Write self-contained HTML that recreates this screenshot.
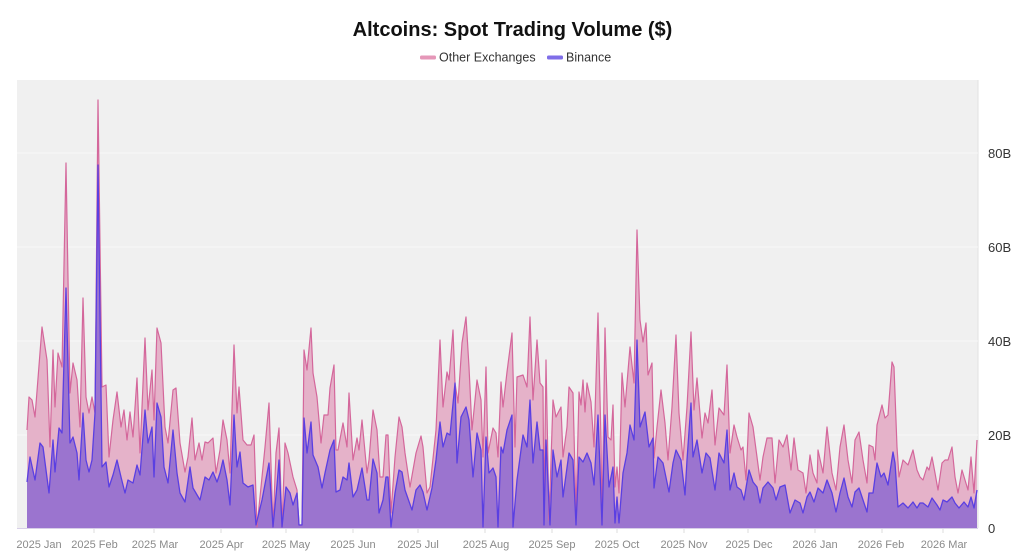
<!DOCTYPE html>
<html><head><meta charset="utf-8"><style>
html,body{margin:0;padding:0;background:#fff;}
svg{display:block;font-family:"Liberation Sans",sans-serif;}
</style></head><body>
<svg width="1024" height="558" viewBox="0 0 1024 558" xmlns="http://www.w3.org/2000/svg">
<rect x="0" y="0" width="1024" height="558" fill="#fff"/>
<text x="512.5" y="36" text-anchor="middle" font-size="20" font-weight="bold" fill="#111">Altcoins: Spot Trading Volume ($)</text>
<rect x="420" y="55.5" width="16" height="4" rx="1.5" fill="#e597b8"/>
<text x="439" y="61.5" font-size="12.5" fill="#333">Other Exchanges</text>
<rect x="547" y="55.5" width="16" height="4" rx="1.5" fill="#7f6ee8"/>
<text x="566" y="61.5" font-size="12.5" fill="#333">Binance</text>
<rect x="17" y="80" width="961" height="448" fill="#f0f0f0"/>
<line x1="978" y1="80" x2="978" y2="528" stroke="#e2e2e2" stroke-width="1"/>
<g stroke="#f7f7f7" stroke-width="1">
<line x1="17" y1="153" x2="978" y2="153"/>
<line x1="17" y1="247" x2="978" y2="247"/>
<line x1="17" y1="341" x2="978" y2="341"/>
<line x1="17" y1="435" x2="978" y2="435"/>
</g>
<polygon fill="#e5b2c9" points="27,528 27,430 29,397 32,400 35,417 42,327 47,360 50,447 53,350 55,407 58,353 62,367 66,163 70,393 73,363 77,380 80,427 83,298 86,397 89,413 92,397 95,413 98,100 102,387 106,385 109,457 113,420 117,392 121,427 124,410 127,440 130,412 133,437 137,378 140,453 145,338 148,410 152,370 154,420 157,328 161,343 165,427 168,443 173,390 176,388 180,443 185,472 188,457 192,418 195,460 199,443 202,460 205,442 208,443 213,438 216,473 220,450 223,420 227,440 230,473 234,345 237,413 239,387 243,440 247,445 251,445 254,435 257,527 262,477 265,447 269,403 273,527 276,453 279,428 282,527 285,443 288,453 293,477 297,490 299,525 302,525 304,350 307,370 311,328 313,373 317,397 321,443 324,415 328,415 330,388 334,365 336,450 338,450 343,423 347,447 349,393 353,460 357,438 359,450 362,420 367,473 369,460 373,410 377,430 380,477 383,477 386,435 388,435 391,513 395,457 399,417 402,427 405,453 410,487 416,453 421,436 423,447 427,493 430,487 436,430 440,340 443,407 447,372 449,380 453,330 455,383 458,403 462,343 466,317 469,367 472,430 477,380 481,400 483,457 486,367 488,453 493,428 496,433 498,457 501,382 503,407 507,372 512,333 515,447 517,377 523,375 527,387 530,317 533,400 537,340 540,383 543,387 544,520 546,360 549,520 553,400 556,417 561,407 563,457 567,427 569,387 573,393 576,513 579,392 581,405 583,380 585,412 587,383 591,402 594,447 598,313 601,440 602,523 605,328 608,437 611,440 613,405 615,487 617,467 619,493 622,373 625,407 630,347 634,383 637,230 640,320 643,342 646,323 648,375 652,363 654,458 657,427 661,390 665,423 668,460 672,407 676,335 679,413 683,460 687,407 691,332 694,410 697,378 702,438 705,413 708,423 712,390 715,445 719,408 724,415 727,365 730,453 734,425 737,437 741,450 743,447 746,480 749,413 753,427 757,457 760,480 763,457 767,438 772,438 775,483 779,440 783,447 787,435 791,470 794,438 798,470 803,473 806,493 810,455 813,473 817,483 818,450 823,473 827,427 832,473 836,490 840,447 844,425 848,460 852,483 855,440 859,432 863,460 867,483 869,445 873,447 875,460 877,425 882,405 885,418 888,415 892,362 894,367 897,447 899,477 903,460 908,465 913,450 917,470 920,477 923,480 927,467 929,470 932,457 935,473 938,490 942,463 945,460 948,460 952,447 955,477 958,493 962,470 965,480 968,490 971,457 974,493 977,440 977,528"/>
<polygon fill="#9b74cf" points="27,528 27,482 30,457 35,480 40,443 43,447 49,493 53,440 55,472 59,428 62,433 66,288 70,443 73,437 77,453 79,480 83,413 86,460 89,472 92,460 95,413 98,165 102,467 106,462 109,487 113,475 117,460 121,477 125,493 128,480 133,483 137,465 140,475 145,410 148,443 152,427 154,477 157,403 161,417 164,467 168,483 173,430 177,473 180,493 185,502 190,467 193,488 200,500 205,477 209,480 213,472 217,482 220,473 223,460 227,480 230,505 234,415 237,467 240,452 243,483 248,487 253,485 256,525 262,500 269,463 273,527 277,485 279,460 282,527 286,487 290,493 293,505 297,493 299,525 302,525 304,418 307,453 311,422 313,455 318,467 322,488 325,473 330,450 334,440 336,492 340,490 343,477 347,480 349,463 353,497 357,490 362,468 367,500 369,500 373,459 377,473 379,513 383,500 386,477 388,477 391,527 395,493 399,470 402,472 405,490 412,510 416,490 420,485 423,492 427,510 432,488 436,460 440,422 443,447 447,433 450,435 455,383 457,463 461,417 466,407 469,420 473,477 477,433 481,450 483,527 486,437 489,473 493,468 496,477 498,527 501,447 503,453 507,430 512,415 513,527 517,480 523,435 527,447 530,400 533,463 537,422 540,450 543,450 544,525 546,440 550,525 553,450 557,477 561,460 563,497 569,453 573,460 576,525 579,457 583,462 587,453 591,463 594,485 598,415 602,525 605,415 609,487 613,467 615,523 617,497 619,523 623,473 627,453 630,425 634,440 637,340 640,427 645,412 649,447 653,438 654,488 658,457 663,463 669,492 673,463 676,450 681,460 685,495 687,460 691,403 693,457 697,440 702,473 706,453 710,458 715,490 719,453 724,463 727,430 730,490 734,473 737,487 741,490 744,500 749,470 753,482 757,487 760,503 763,488 768,482 773,488 776,500 780,487 785,485 790,513 795,500 800,503 803,513 807,497 810,492 814,502 818,488 823,493 827,480 832,493 836,512 840,493 844,478 848,497 852,507 855,492 859,488 863,500 867,512 869,493 873,493 877,463 881,477 884,473 888,485 893,452 895,463 898,507 903,503 908,508 913,502 917,508 920,503 923,503 928,507 932,498 937,505 940,510 943,500 947,502 952,497 955,503 959,508 964,502 968,507 971,497 974,508 977,490 977,528"/>
<polyline fill="none" stroke="#d4679b" stroke-width="1.2" stroke-linejoin="round" points="27,430 29,397 32,400 35,417 42,327 47,360 50,447 53,350 55,407 58,353 62,367 66,163 70,393 73,363 77,380 80,427 83,298 86,397 89,413 92,397 95,413 98,100 102,387 106,385 109,457 113,420 117,392 121,427 124,410 127,440 130,412 133,437 137,378 140,453 145,338 148,410 152,370 154,420 157,328 161,343 165,427 168,443 173,390 176,388 180,443 185,472 188,457 192,418 195,460 199,443 202,460 205,442 208,443 213,438 216,473 220,450 223,420 227,440 230,473 234,345 237,413 239,387 243,440 247,445 251,445 254,435 257,527 262,477 265,447 269,403 273,527 276,453 279,428 282,527 285,443 288,453 293,477 297,490 299,525 302,525 304,350 307,370 311,328 313,373 317,397 321,443 324,415 328,415 330,388 334,365 336,450 338,450 343,423 347,447 349,393 353,460 357,438 359,450 362,420 367,473 369,460 373,410 377,430 380,477 383,477 386,435 388,435 391,513 395,457 399,417 402,427 405,453 410,487 416,453 421,436 423,447 427,493 430,487 436,430 440,340 443,407 447,372 449,380 453,330 455,383 458,403 462,343 466,317 469,367 472,430 477,380 481,400 483,457 486,367 488,453 493,428 496,433 498,457 501,382 503,407 507,372 512,333 515,447 517,377 523,375 527,387 530,317 533,400 537,340 540,383 543,387 544,520 546,360 549,520 553,400 556,417 561,407 563,457 567,427 569,387 573,393 576,513 579,392 581,405 583,380 585,412 587,383 591,402 594,447 598,313 601,440 602,523 605,328 608,437 611,440 613,405 615,487 617,467 619,493 622,373 625,407 630,347 634,383 637,230 640,320 643,342 646,323 648,375 652,363 654,458 657,427 661,390 665,423 668,460 672,407 676,335 679,413 683,460 687,407 691,332 694,410 697,378 702,438 705,413 708,423 712,390 715,445 719,408 724,415 727,365 730,453 734,425 737,437 741,450 743,447 746,480 749,413 753,427 757,457 760,480 763,457 767,438 772,438 775,483 779,440 783,447 787,435 791,470 794,438 798,470 803,473 806,493 810,455 813,473 817,483 818,450 823,473 827,427 832,473 836,490 840,447 844,425 848,460 852,483 855,440 859,432 863,460 867,483 869,445 873,447 875,460 877,425 882,405 885,418 888,415 892,362 894,367 897,447 899,477 903,460 908,465 913,450 917,470 920,477 923,480 927,467 929,470 932,457 935,473 938,490 942,463 945,460 948,460 952,447 955,477 958,493 962,470 965,480 968,490 971,457 974,493 977,440"/>
<polyline fill="none" stroke="#5a3fe2" stroke-width="1.3" stroke-linejoin="round" points="27,482 30,457 35,480 40,443 43,447 49,493 53,440 55,472 59,428 62,433 66,288 70,443 73,437 77,453 79,480 83,413 86,460 89,472 92,460 95,413 98,165 102,467 106,462 109,487 113,475 117,460 121,477 125,493 128,480 133,483 137,465 140,475 145,410 148,443 152,427 154,477 157,403 161,417 164,467 168,483 173,430 177,473 180,493 185,502 190,467 193,488 200,500 205,477 209,480 213,472 217,482 220,473 223,460 227,480 230,505 234,415 237,467 240,452 243,483 248,487 253,485 256,525 262,500 269,463 273,527 277,485 279,460 282,527 286,487 290,493 293,505 297,493 299,525 302,525 304,418 307,453 311,422 313,455 318,467 322,488 325,473 330,450 334,440 336,492 340,490 343,477 347,480 349,463 353,497 357,490 362,468 367,500 369,500 373,459 377,473 379,513 383,500 386,477 388,477 391,527 395,493 399,470 402,472 405,490 412,510 416,490 420,485 423,492 427,510 432,488 436,460 440,422 443,447 447,433 450,435 455,383 457,463 461,417 466,407 469,420 473,477 477,433 481,450 483,527 486,437 489,473 493,468 496,477 498,527 501,447 503,453 507,430 512,415 513,527 517,480 523,435 527,447 530,400 533,463 537,422 540,450 543,450 544,525 546,440 550,525 553,450 557,477 561,460 563,497 569,453 573,460 576,525 579,457 583,462 587,453 591,463 594,485 598,415 602,525 605,415 609,487 613,467 615,523 617,497 619,523 623,473 627,453 630,425 634,440 637,340 640,427 645,412 649,447 653,438 654,488 658,457 663,463 669,492 673,463 676,450 681,460 685,495 687,460 691,403 693,457 697,440 702,473 706,453 710,458 715,490 719,453 724,463 727,430 730,490 734,473 737,487 741,490 744,500 749,470 753,482 757,487 760,503 763,488 768,482 773,488 776,500 780,487 785,485 790,513 795,500 800,503 803,513 807,497 810,492 814,502 818,488 823,493 827,480 832,493 836,512 840,493 844,478 848,497 852,507 855,492 859,488 863,500 867,512 869,493 873,493 877,463 881,477 884,473 888,485 893,452 895,463 898,507 903,503 908,508 913,502 917,508 920,503 923,503 928,507 932,498 937,505 940,510 943,500 947,502 952,497 955,503 959,508 964,502 968,507 971,497 974,508 977,490"/>
<line x1="17" y1="528.5" x2="978" y2="528.5" stroke="#d8cfe8" stroke-width="1"/>
<g stroke="#dddddd" stroke-width="1">
<line x1="94" y1="529" x2="94" y2="533"/><line x1="154" y1="529" x2="154" y2="533"/><line x1="221" y1="529" x2="221" y2="533"/><line x1="286" y1="529" x2="286" y2="533"/><line x1="353" y1="529" x2="353" y2="533"/><line x1="418" y1="529" x2="418" y2="533"/><line x1="485" y1="529" x2="485" y2="533"/><line x1="552" y1="529" x2="552" y2="533"/><line x1="617" y1="529" x2="617" y2="533"/><line x1="684" y1="529" x2="684" y2="533"/><line x1="748" y1="529" x2="748" y2="533"/><line x1="815" y1="529" x2="815" y2="533"/><line x1="882" y1="529" x2="882" y2="533"/><line x1="943" y1="529" x2="943" y2="533"/>
</g>
<g font-size="11" fill="#8a8a8a" text-anchor="middle">
<text x="39" y="548">2025 Jan</text>
<text x="94.5" y="548">2025 Feb</text>
<text x="155" y="548">2025 Mar</text>
<text x="221.5" y="548">2025 Apr</text>
<text x="286" y="548">2025 May</text>
<text x="353" y="548">2025 Jun</text>
<text x="418" y="548">2025 Jul</text>
<text x="486" y="548">2025 Aug</text>
<text x="552" y="548">2025 Sep</text>
<text x="617" y="548">2025 Oct</text>
<text x="684" y="548">2025 Nov</text>
<text x="749" y="548">2025 Dec</text>
<text x="815" y="548">2026 Jan</text>
<text x="881" y="548">2026 Feb</text>
<text x="944" y="548">2026 Mar</text>
</g>
<g font-size="13" fill="#333">
<text x="988" y="158">80B</text>
<text x="988" y="252">60B</text>
<text x="988" y="346">40B</text>
<text x="988" y="440">20B</text>
<text x="988" y="533">0</text>
</g>
</svg>
</body></html>
